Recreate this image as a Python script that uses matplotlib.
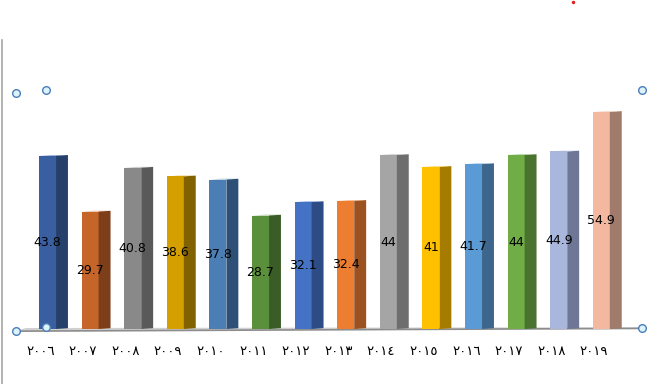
import numpy as np
import matplotlib
matplotlib.use('Agg')
from matplotlib import pyplot as plt
from matplotlib.patches import Polygon

years   = ['٢٠٠٦', '٢٠٠٧', '٢٠٠٨', '٢٠٠٩', '٢٠١٠', '٢٠١١', '٢٠١٢',
           '٢٠١٣', '٢٠١٤', '٢٠١٥', '٢٠١٦', '٢٠١٧', '٢٠١٨', '٢٠١٩']
values  = [43.8, 29.7, 40.8, 38.6, 37.8, 28.7, 32.1, 32.4, 44, 41, 41.7, 44, 44.9, 54.9]
labels  = ['43.8', '29.7', '40.8', '38.6', '37.8', '28.7', '32.1', '32.4',
           '44', '41', '41.7', '44', '44.9', '54.9']
front   = ['#3A5FA0', '#C5652A', '#898989', '#D4A000', '#4A7EB5', '#5A8F3C', '#4472C4',
           '#ED7D31', '#A5A5A5', '#FFC000', '#5B9BD5', '#70AD47', '#A9B7DC', '#F4B8A0']
side    = ['#24406B', '#7C3F1A', '#595959', '#826100', '#2E5076', '#3A5C26', '#2D4B85',
           '#9C5220', '#6E6E6E', '#A67C00', '#3C668C', '#4A732F', '#6E7795', '#A07A6B']

W, H = 664, 384
fig = plt.figure(figsize=(W/100, H/100), dpi=100)
ax  = fig.add_axes([4.9/W, 55/H, 639/W, 344/H])
ax.set_xlim(-1, 14)
ax.set_ylim(0, 87)
ax.axis('off')

x  = np.arange(len(values))
bw = 0.40   # front width
d  = 0.28   # depth to the right
dy = 0.2    # depth upward

# floor
ax.add_patch(Polygon([(-0.79, -0.55), (13.96, 0.15), (13.96, 0.45), (-0.5, 0.25)],
                     closed=True, fc='#D0D0D0', ec='none', clip_on=False, zorder=1))
ax.plot([-0.79, 13.96], [-0.55, 0.15], color='#8C8C8C', lw=1.2, clip_on=False, zorder=1)

ax.bar(x, values, width=bw, color=front, edgecolor='none', zorder=3)
for xi, v, c, s in zip(x, values, front, side):
	r = xi + bw/2
	ax.add_patch(Polygon([(r, 0), (r+d, dy), (r+d, v+dy), (r, v)],
	                     closed=True, fc=s, ec='none', zorder=3))
	ax.add_patch(Polygon([(xi-bw/2, v), (r, v), (r+d, v+dy), (xi-bw/2+d, v+dy)],
	                     closed=True, fc=c, ec='none', alpha=0.6, zorder=3))

for xi, v, t in zip(x, values, labels):
	ax.text(xi, v/2, t, ha='center', va='center', fontsize=9, color='black', zorder=5)

for xi, t in zip(x, years):
	ax.text(xi - 0.17, -5.8, t, ha='center', va='center', fontsize=9.5,
	        family=['DejaVu Sans'], color='black', clip_on=False)

# selection frame / handles of the chart object
fig.add_artist(plt.Line2D([1.5/W, 1.5/W], [0, 1 - 40/H], color='#A6A6A6', lw=1.2))
hx = [16, 46, 642, 16, 46, 642]
hy = [93, 90, 90, 331, 327, 328]
for px, py in zip(hx, hy):
	fig.add_artist(plt.Line2D([px/W], [1 - py/H], marker='o', ms=5.5,
	                          mfc='#DDF3FA', mec='#4A7EBB', mew=1.0, ls='none'))
fig.add_artist(plt.Line2D([573/W], [1 - 2/H], marker='o', ms=2.5,
                          mfc='#E02020', mec='none', ls='none'))

fig.savefig('out.png', dpi=100)
